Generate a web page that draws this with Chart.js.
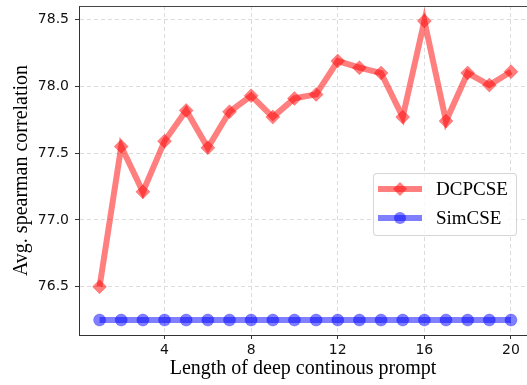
<!DOCTYPE html>
<html>
<head>
<meta charset="utf-8">
<script src="https://cdn.jsdelivr.net/npm/chart.js@4"></script>
<style>
  body { margin: 0; background: #fff; }
  #wrap { position: relative; width: 527px; height: 385px; }
  #legend {
    position: absolute; left: 373px; top: 173px; width: 142px; height: 61px;
    border: 1px solid rgba(204, 204, 204, 0.8); border-radius: 4px;
    background: rgba(255, 255, 255, 0.8);
    font-family: "Liberation Serif", "Times New Roman", serif; font-size: 19px; color: #000;
  }
  .item { position: absolute; left: 4px; height: 24px; display: flex; align-items: center; }
  .item svg { display: block; margin-right: 14px; }
</style>
</head>
<body>
<div id="wrap">
  <canvas id="chart" width="527" height="385"></canvas>
  <div id="legend"></div>
</div>
<script>
const lengths = [1, 2, 3, 4, 5, 6, 7, 8, 9, 10, 11, 12, 13, 14, 15, 16, 17, 18, 19, 20];
const dcpcse = [76.50, 77.55, 77.21, 77.59, 77.82, 77.54, 77.81, 77.93, 77.77, 77.91,
                77.94, 78.19, 78.14, 78.10, 77.77, 78.49, 77.74, 78.10, 78.01, 78.11];
const simcse = [76.25, 76.25, 76.25, 76.25, 76.25, 76.25, 76.25, 76.25, 76.25, 76.25,
                76.25, 76.25, 76.25, 76.25, 76.25, 76.25, 76.25, 76.25, 76.25, 76.25];
const seriesNames = ["DCPCSE", "SimCSE"];
const xTicks = [4, 8, 12, 16, 20];
const yTicks = [76.5, 77.0, 77.5, 78.0, 78.5];

const red = "rgba(255, 0, 0, 0.5)";
const blue = "rgba(0, 0, 255, 0.5)";

const toPoints = ys => lengths.map((x, i) => ({ x: x, y: ys[i] }));

// matplotlib style top spine
const topSpine = {
    id: "topSpine",
    afterDraw(chart) {
        const { ctx, chartArea } = chart;
        ctx.save();
        ctx.strokeStyle = "#444";
        ctx.lineWidth = 1;
        ctx.beginPath();
        ctx.moveTo(chartArea.left, chartArea.top + 0.5);
        ctx.lineTo(chartArea.right, chartArea.top + 0.5);
        ctx.stroke();
        ctx.restore();
    }
};

const tickFont = { family: "'DejaVu Sans', sans-serif", size: 14 };
const titleFont = { family: "'Liberation Serif', 'Times New Roman', serif", size: 20 };

const chart = new Chart(document.getElementById("chart"), {
    type: "line",
    data: {
        datasets: [
            {
                label: seriesNames[0],
                data: toPoints(dcpcse),
                borderColor: red,
                borderWidth: 6,
                pointStyle: "rectRot",
                pointRadius: 7,
                pointBackgroundColor: red,
                pointBorderColor: "rgba(255, 0, 0, 0.25)",
                pointBorderWidth: 1,
                tension: 0
            },
            {
                label: seriesNames[1],
                data: toPoints(simcse),
                borderColor: blue,
                borderWidth: 6,
                pointStyle: "circle",
                pointRadius: 6,
                pointBackgroundColor: blue,
                pointBorderColor: "rgba(0, 0, 255, 0.25)",
                pointBorderWidth: 1,
                tension: 0
            }
        ]
    },
    options: {
        responsive: false,
        animation: false,
        layout: { autoPadding: false, padding: { top: 6, right: 0, left: 0, bottom: 0 } },
        plugins: {
            legend: { display: false },
            tooltip: { enabled: false }
        },
        scales: {
            x: {
                type: "linear",
                min: 0.05,
                max: 20.74,
                afterBuildTicks: scale => { scale.ticks = xTicks.map(v => ({ value: v })); },
                afterFit: scale => {
                    scale.height = 50;
                    scale.paddingLeft = 0;
                    scale.paddingRight = 0;
                },
                ticks: { font: tickFont, color: "#111", padding: 3, maxRotation: 0 },
                grid: { color: "#dcdcdc", tickColor: "#333", tickLength: 4, tickBorderDash: [] },
                border: { color: "#333", width: 1, dash: [4, 3] },
                title: {
                    display: true,
                    text: "Length of deep continous prompt",
                    font: titleFont,
                    color: "#000",
                    padding: { top: 0, bottom: 4 }
                }
            },
            y: {
                min: 76.138,
                max: 78.602,
                afterBuildTicks: scale => { scale.ticks = yTicks.map(v => ({ value: v })); },
                afterFit: scale => {
                    scale.width = 79;
                    scale.paddingTop = 0;
                    scale.paddingBottom = 0;
                },
                ticks: { font: tickFont, color: "#111", padding: 6, callback: v => v.toFixed(1) },
                grid: { color: "#dcdcdc", tickColor: "#333", tickLength: 4, tickBorderDash: [] },
                border: { color: "#333", width: 1, dash: [4, 3] },
                title: {
                    display: true,
                    text: "Avg. spearman correlation",
                    font: titleFont,
                    color: "#000",
                    padding: { top: 10, bottom: 0 }
                }
            }
        }
    },
    plugins: [topSpine]
});

// legend drawn as html, placed inside the plot like matplotlib's 'center right'
const legend = document.getElementById("legend");
chart.data.datasets.forEach((ds, i) => {
    const item = document.createElement("div");
    item.className = "item";
    item.style.top = (3 + i * 29) + "px";
    const marker = ds.pointStyle === "rectRot"
        ? `<polygon points="22,1 29,8 22,15 15,8" fill="${ds.pointBackgroundColor}"/>`
        : `<circle cx="22" cy="8" r="6" fill="${ds.pointBackgroundColor}"/>`;
    item.innerHTML =
        `<svg width="44" height="16"><line x1="0" y1="8" x2="44" y2="8" stroke="${ds.borderColor}" stroke-width="6"/>${marker}</svg>` +
        `<span>${ds.label}</span>`;
    legend.appendChild(item);
});
</script>
</body>
</html>
